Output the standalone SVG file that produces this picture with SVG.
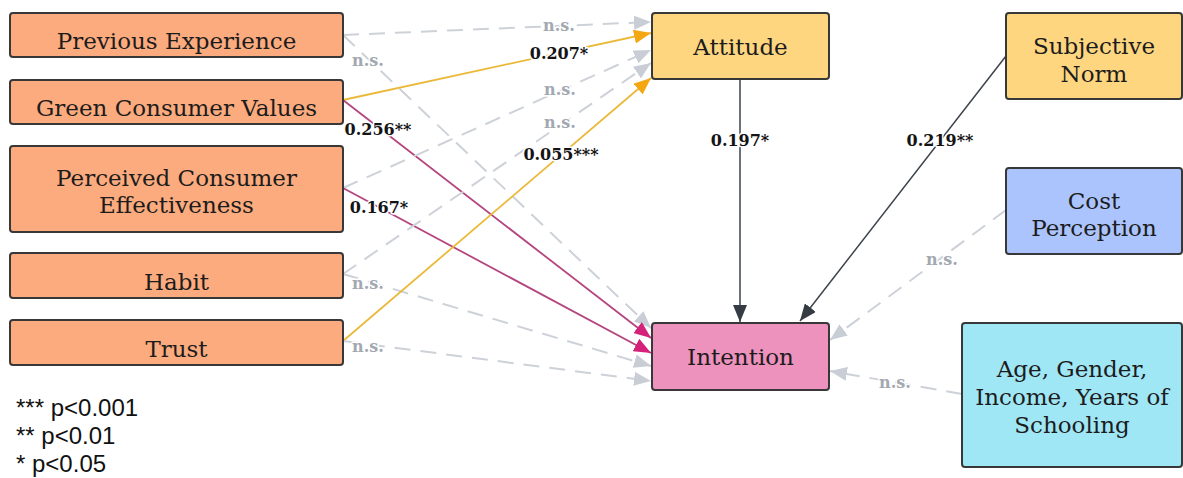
<svg xmlns="http://www.w3.org/2000/svg" width="1183" height="478" viewBox="0 0 1183 478">
<style>
.box{stroke:#383838;stroke-width:2}
.left{fill:#fcab7e}
.yel{fill:#fed680}
.blue{fill:#abc4fd}
.cyan{fill:#a0e7f6}
.pink{fill:#ed91bd}
.nt{font-family:"DejaVu Serif","Liberation Serif",serif;font-size:23px;fill:#1c1c1c;text-anchor:middle}
.lb{font-family:"DejaVu Serif","Liberation Serif",serif;font-size:16px;font-weight:bold;text-anchor:middle;paint-order:stroke;stroke:#fff;stroke-width:3px;stroke-linejoin:round}
.k{fill:#141414}
.ns{fill:#a3a8b1}
.grey{fill:none;stroke:#cdd1d8;stroke-width:2;stroke-dasharray:16 10}
.org{fill:none;stroke:#ebb93a;stroke-width:1.8}
.mag{fill:none;stroke:#b5457f;stroke-width:1.8}
.dark{fill:none;stroke:#3d434b;stroke-width:1.5}
.leg{font-family:"Liberation Sans",Arial,sans-serif;font-size:24px;fill:#111}
</style>
<defs>
<marker id="aG" markerUnits="userSpaceOnUse" markerWidth="17" markerHeight="14" viewBox="0 0 17 14" refX="17" refY="7" orient="auto"><path d="M0,0 L17,7 L0,14 z" fill="#c9ced6"/></marker>
<marker id="aO" markerUnits="userSpaceOnUse" markerWidth="17" markerHeight="14" viewBox="0 0 17 14" refX="17" refY="7" orient="auto"><path d="M0,0 L17,7 L0,14 z" fill="#f5a712"/></marker>
<marker id="aM" markerUnits="userSpaceOnUse" markerWidth="17" markerHeight="14" viewBox="0 0 17 14" refX="17" refY="7" orient="auto"><path d="M0,0 L17,7 L0,14 z" fill="#d4227a"/></marker>
<marker id="aD" markerUnits="userSpaceOnUse" markerWidth="17" markerHeight="14" viewBox="0 0 17 14" refX="17" refY="7" orient="auto"><path d="M0,0 L17,7 L0,14 z" fill="#363c44"/></marker>
</defs>
<g id="connectors">
<path class="grey" d="M343,35 L651,22" marker-end="url(#aG)"/>
<path class="grey" d="M343,35 L651,328" marker-end="url(#aG)"/>
<path class="org" d="M343,100 L651,33" marker-end="url(#aO)"/>
<path class="mag" d="M343,100 L651,338" marker-end="url(#aM)"/>
<path class="grey" d="M343,188 L651,50" marker-end="url(#aG)"/>
<path class="mag" d="M343,188 L651,353" marker-end="url(#aM)"/>
<path class="grey" d="M343,274 L651,63" marker-end="url(#aG)"/>
<path class="grey" d="M343,274 L651,366" marker-end="url(#aG)"/>
<path class="org" d="M343,341 L651,78" marker-end="url(#aO)"/>
<path class="grey" d="M343,341 L651,381" marker-end="url(#aG)"/>
<path class="dark" d="M740,80 L740,322" marker-end="url(#aD)"/>
<path class="dark" d="M1006,56 L800,321" marker-end="url(#aD)"/>
<path class="grey" d="M1006,210 L830,340" marker-end="url(#aG)"/>
<path class="grey" d="M962,394 L830,371" marker-end="url(#aG)"/>
<text class="lb ns" x="559" y="31">n.s.</text>
<text class="lb k" x="559" y="59">0.207*</text>
<text class="lb ns" x="560" y="95">n.s.</text>
<text class="lb ns" x="560" y="128">n.s.</text>
<text class="lb k" x="561" y="160">0.055***</text>
<text class="lb k" x="378" y="135">0.256**</text>
<text class="lb k" x="379" y="213">0.167*</text>
<text class="lb ns" x="368" y="66">n.s.</text>
<text class="lb ns" x="368" y="289">n.s.</text>
<text class="lb ns" x="368" y="352">n.s.</text>
<text class="lb k" x="740" y="146">0.197*</text>
<text class="lb k" x="940" y="146">0.219**</text>
<text class="lb ns" x="942" y="265">n.s.</text>
<text class="lb ns" x="895" y="388">n.s.</text>
</g>
<g id="previous-experience"><rect class="box left" x="10" y="13" width="333" height="44" rx="3"/><text class="nt" x="176.5" y="49">Previous Experience</text></g>
<g id="green-consumer-values"><rect class="box left" x="10" y="80" width="333" height="44" rx="3"/><text class="nt" x="176.5" y="116">Green Consumer Values</text></g>
<g id="perceived-consumer-effectiveness"><rect class="box left" x="10" y="146" width="333" height="86" rx="3"/><text class="nt" x="176.5" y="186">Perceived Consumer</text><text class="nt" x="176.5" y="213">Effectiveness</text></g>
<g id="habit"><rect class="box left" x="10" y="253" width="333" height="45" rx="3"/><text class="nt" x="176.5" y="290">Habit</text></g>
<g id="trust"><rect class="box left" x="10" y="320" width="333" height="45" rx="3"/><text class="nt" x="176.5" y="357">Trust</text></g>
<g id="attitude"><rect class="box yel" x="652" y="13" width="177" height="66" rx="3"/><text class="nt" x="740.5" y="55">Attitude</text></g>
<g id="subjective-norm"><rect class="box yel" x="1006" y="13" width="176" height="86" rx="3"/><text class="nt" x="1094" y="54">Subjective</text><text class="nt" x="1094" y="82">Norm</text></g>
<g id="cost-perception"><rect class="box blue" x="1006" y="168" width="176" height="86" rx="3"/><text class="nt" x="1094" y="209">Cost</text><text class="nt" x="1094" y="236">Perception</text></g>
<g id="intention"><rect class="box pink" x="652" y="323" width="177" height="67" rx="3"/><text class="nt" x="740.5" y="365">Intention</text></g>
<g id="demographics"><rect class="box cyan" x="962" y="323" width="220" height="144" rx="3"/><text class="nt" x="1072" y="377">Age, Gender,</text><text class="nt" x="1072" y="405">Income, Years of</text><text class="nt" x="1072" y="433">Schooling</text></g>
<g id="legend">
<text class="leg" x="16" y="416">*** p&lt;0.001</text>
<text class="leg" x="16" y="444">** p&lt;0.01</text>
<text class="leg" x="16" y="472">* p&lt;0.05</text>
</g>
</svg>
